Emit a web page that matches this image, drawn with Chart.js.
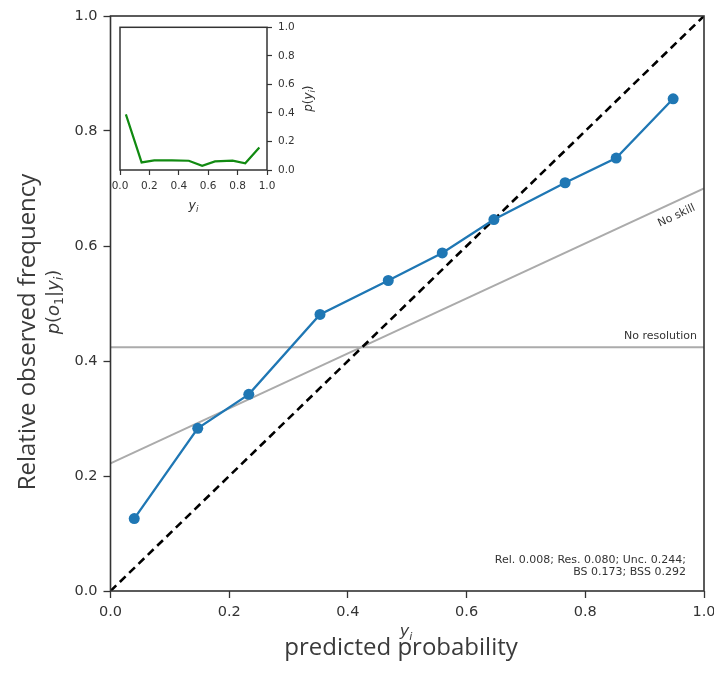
<!DOCTYPE html>
<html>
<head>
<meta charset="utf-8">
<script src="https://cdn.jsdelivr.net/npm/chart.js@4.4.1/dist/chart.umd.min.js"></script>
<style>
  html, body { margin: 0; padding: 0; background: #fff; }
  #wrap { position: relative; width: 714px; height: 673px; }
  #main { position: absolute; left: 0; top: 0; }
  #inset { position: absolute; left: 110px; top: 15px; }
</style>
</head>
<body>
<div id="wrap">
  <canvas id="main" width="714" height="673"></canvas>
  <canvas id="inset" width="210" height="200"></canvas>
</div>
<script>
// reliability diagram data
const binCenters = [0.040, 0.147, 0.233, 0.353, 0.468, 0.559, 0.646, 0.766, 0.852, 0.948];
const observedFreq = [0.126, 0.283, 0.342, 0.481, 0.540, 0.588, 0.646, 0.710, 0.753, 0.856];
const forecastFreq = [0.39, 0.053, 0.068, 0.068, 0.065, 0.03, 0.06, 0.065, 0.047, 0.158];
const climatology = 0.424;
const noSkillEnds = [0.222, 0.700];
const tickValues = [0, 0.2, 0.4, 0.6, 0.8, 1.0];
const statsLines = ["Rel. 0.008; Res. 0.080; Unc. 0.244;", "BS 0.173; BSS 0.292"];

const TEXT = "#333";
const SPINE = "#333";

// draw a little mathtext-like run: [{t, it, sub}]
function drawRich(ctx, parts, x, y, size, align) {
  const fontFor = p => (p.it ? "italic " : "") + (p.sub ? size * 0.7 : size) + 'px "DejaVu Sans"';
  let total = 0;
  parts.forEach(p => { ctx.font = fontFor(p); total += ctx.measureText(p.t).width; });
  let cx = align === "center" ? x - total / 2 : x;
  ctx.textAlign = "left";
  ctx.textBaseline = "alphabetic";
  parts.forEach(p => {
    ctx.font = fontFor(p);
    ctx.fillText(p.t, cx, p.sub ? y + size * 0.22 : y);
    cx += ctx.measureText(p.t).width;
  });
}

const pts = (xs, ys) => xs.map((x, i) => ({ x: x, y: ys[i] }));

const mainDecor = {
  id: "mainDecor",
  afterDatasetsDraw(chart) {
    const ctx = chart.ctx, a = chart.chartArea;
    ctx.save();
    ctx.strokeStyle = SPINE;
    ctx.lineWidth = 1.6;
    ctx.strokeRect(a.left, a.top, a.right - a.left, a.bottom - a.top);
    ctx.restore();
  },
  afterDraw(chart) {
    const ctx = chart.ctx, a = chart.chartArea;
    const xs = chart.scales.x, ys = chart.scales.y;
    ctx.save();
    ctx.fillStyle = TEXT;

    // annotations
    ctx.font = '11px "DejaVu Sans"';
    ctx.textAlign = "right";
    ctx.textBaseline = "alphabetic";
    ctx.fillText("No resolution", a.right - 7, ys.getPixelForValue(climatology) - 8);
    ctx.fillText(statsLines[0], a.right - 18, 563);
    ctx.fillText(statsLines[1], a.right - 18, 575);

    const x1 = xs.getPixelForValue(0), y1 = ys.getPixelForValue(noSkillEnds[0]);
    const x2 = xs.getPixelForValue(1), y2 = ys.getPixelForValue(noSkillEnds[1]);
    const ang = Math.atan2(y2 - y1, x2 - x1);
    const tx = a.right - 15;
    const ty = y1 + (y2 - y1) * (tx - x1) / (x2 - x1);
    ctx.save();
    ctx.translate(tx, ty);
    ctx.rotate(ang);
    ctx.fillText("No skill", 0, 16);
    ctx.restore();

    // axis titles
    ctx.fillStyle = "#3a3a3a";
    ctx.font = '24px "Open Sans"';
    ctx.textAlign = "center";
    ctx.fillText("predicted probability", 401, 655);
    drawRich(ctx, [{ t: "y", it: true }, { t: "i", it: true, sub: true }], 406, 636, 16, "center");

    ctx.save();
    ctx.translate(35, 332);
    ctx.rotate(-Math.PI / 2);
    ctx.font = '24px "Open Sans"';
    ctx.textAlign = "center";
    ctx.fillText("Relative observed frequency", 0, 0);
    ctx.restore();

    ctx.save();
    ctx.translate(59, 302);
    ctx.rotate(-Math.PI / 2);
    drawRich(ctx, [
      { t: "p", it: true }, { t: "(" }, { t: "o", it: true }, { t: "1", sub: true },
      { t: "|" }, { t: "y", it: true }, { t: "i", it: true, sub: true }, { t: ")" }
    ], 0, 0, 18, "center");
    ctx.restore();

    ctx.restore();
  }
};

new Chart(document.getElementById("main"), {
  type: "scatter",
  data: {
    datasets: [
      {
        label: "reliability",
        data: pts(binCenters, observedFreq),
        showLine: true,
        borderColor: "#1f77b4",
        backgroundColor: "#1f77b4",
        borderWidth: 2.3,
        pointRadius: 5.5,
        pointBorderWidth: 0,
        pointHoverRadius: 5.5
      },
      {
        label: "perfect",
        data: pts([0, 1], [0, 1]),
        showLine: true,
        borderColor: "#000",
        borderDash: [8, 5],
        borderWidth: 2.6,
        pointRadius: 0
      },
      {
        label: "no skill",
        data: pts([0, 1], noSkillEnds),
        showLine: true,
        borderColor: "#ababab",
        borderWidth: 2,
        pointRadius: 0
      },
      {
        label: "no resolution",
        data: pts([0, 1], [climatology, climatology]),
        showLine: true,
        borderColor: "#ababab",
        borderWidth: 2,
        pointRadius: 0
      }
    ]
  },
  options: {
    responsive: false,
    animation: false,
    events: [],
    layout: { padding: { left: 0, right: 10, top: 16, bottom: 0 } },
    plugins: { legend: { display: false }, tooltip: { enabled: false } },
    scales: {
      x: {
        type: "linear",
        min: 0,
        max: 1,
        afterBuildTicks: s => { s.ticks = tickValues.map(v => ({ value: v })); },
        afterFit: s => { s.height = 82; s.paddingLeft = 0; s.paddingRight = 0; },
        border: { display: false },
        grid: { drawOnChartArea: false, tickLength: 7, tickColor: SPINE, tickWidth: 1.3 },
        ticks: {
          font: { family: "DejaVu Sans", size: 14.5 },
          color: TEXT,
          padding: 6,
          maxRotation: 0,
          callback: v => v.toFixed(1)
        }
      },
      y: {
        type: "linear",
        min: 0,
        max: 1,
        afterBuildTicks: s => { s.ticks = tickValues.map(v => ({ value: v })); },
        afterFit: s => { s.width = 110.5; },
        border: { display: false },
        grid: { drawOnChartArea: false, tickLength: 7, tickColor: SPINE, tickWidth: 1.3 },
        ticks: {
          font: { family: "DejaVu Sans", size: 14.5 },
          color: TEXT,
          padding: 6,
          callback: v => v.toFixed(1)
        }
      }
    }
  },
  plugins: [mainDecor]
});

// inset: forecast frequency
const insetDecor = {
  id: "insetDecor",
  afterDatasetsDraw(chart) {
    const ctx = chart.ctx, a = chart.chartArea;
    ctx.save();
    ctx.strokeStyle = SPINE;
    ctx.lineWidth = 1.5;
    ctx.strokeRect(a.left, a.top, a.right - a.left, a.bottom - a.top);
    ctx.restore();
  },
  afterDraw(chart) {
    const ctx = chart.ctx, a = chart.chartArea;
    ctx.save();
    ctx.fillStyle = TEXT;
    drawRich(ctx, [{ t: "y", it: true }, { t: "i", it: true, sub: true }], (a.left + a.right) / 2, a.bottom + 39, 12.5, "center");
    ctx.translate(a.right + 45, (a.top + a.bottom) / 2);
    ctx.rotate(-Math.PI / 2);
    drawRich(ctx, [
      { t: "p", it: true }, { t: "(" }, { t: "y", it: true }, { t: "i", it: true, sub: true }, { t: ")" }
    ], 0, 0, 12, "center");
    ctx.restore();
  }
};

new Chart(document.getElementById("inset"), {
  type: "scatter",
  data: {
    datasets: [{
      label: "p(yi)",
      data: pts(binCenters, forecastFreq),
      showLine: true,
      borderColor: "#118a11",
      borderWidth: 2.2,
      pointRadius: 0
    }]
  },
  options: {
    responsive: false,
    animation: false,
    events: [],
    layout: { padding: { left: 10, top: 10, right: 0, bottom: 0 } },
    plugins: { legend: { display: false }, tooltip: { enabled: false } },
    scales: {
      x: {
        type: "linear",
        position: "bottom",
        min: 0,
        max: 1,
        afterBuildTicks: s => { s.ticks = tickValues.map(v => ({ value: v })); },
        afterFit: s => { s.height = 45; s.paddingLeft = 0; s.paddingRight = 0; },
        border: { display: false },
        grid: { drawOnChartArea: false, tickLength: 5, tickColor: SPINE, tickWidth: 1.2 },
        ticks: {
          font: { family: "DejaVu Sans", size: 10.5 },
          color: TEXT,
          padding: 5,
          maxRotation: 0,
          autoSkip: false,
          callback: v => v.toFixed(1)
        }
      },
      y: {
        type: "linear",
        position: "right",
        min: 0,
        max: 1,
        afterBuildTicks: s => { s.ticks = tickValues.map(v => ({ value: v })); },
        afterFit: s => { s.width = 53; },
        border: { display: false },
        grid: { drawOnChartArea: false, tickLength: 5, tickColor: SPINE, tickWidth: 1.2 },
        ticks: {
          font: { family: "DejaVu Sans", size: 10.5 },
          color: TEXT,
          padding: 6,
          callback: v => v.toFixed(1)
        }
      }
    }
  },
  plugins: [insetDecor]
});
</script>
</body>
</html>
